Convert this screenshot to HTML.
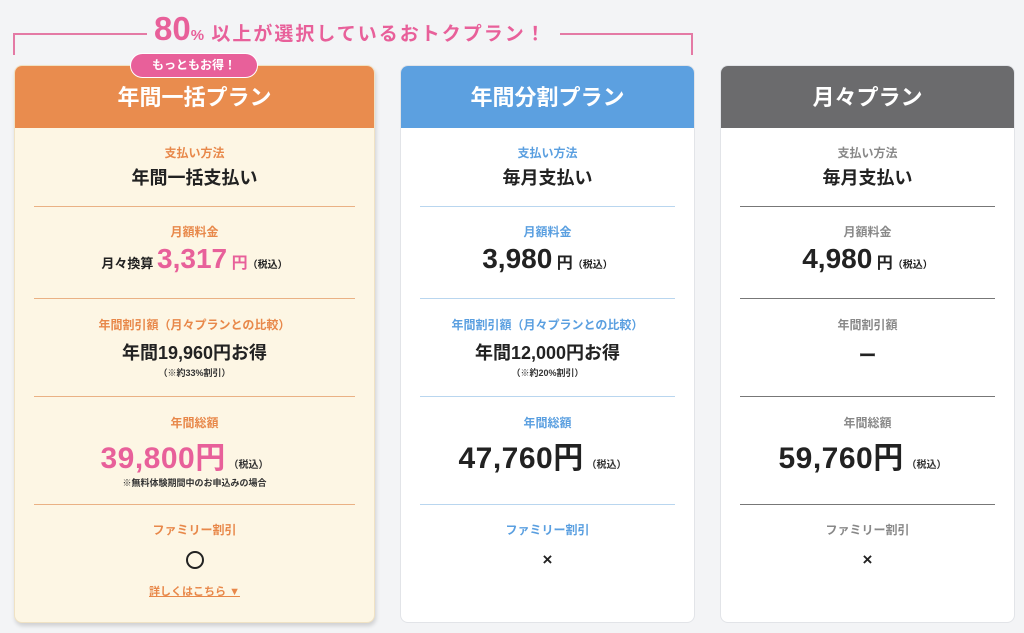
<!DOCTYPE html>
<html><head><meta charset="utf-8"><style>
*{margin:0;padding:0;box-sizing:border-box}
body{width:1024px;height:633px;background:#f3f4f6;font-family:"Liberation Sans","Noto Sans CJK JP",sans-serif;position:relative;overflow:hidden;font-weight:bold}
.card{position:absolute;top:65px;height:558px;border-radius:8px;overflow:hidden;background:#fff;border:1px solid #e2e4e8}
.hd{position:absolute;left:0;right:0;top:0;height:62px;color:#fff;font-size:22px;text-align:center;line-height:64px}
.t{position:absolute;left:0;right:0;text-align:center;white-space:nowrap}
.lb{font-size:12px}
.v{font-size:18px;color:#222}
.hr{position:absolute;height:1px}
.n{font-size:9px;color:#333}
.big{font-size:30px;letter-spacing:0.5px}
.s{font-size:10px;color:#333}
</style></head><body>
<div style="position:absolute;left:13px;top:33px;width:134px;height:2px;background:#e47aa5"></div>
<div style="position:absolute;left:13px;top:33px;width:2px;height:22px;background:#e47aa5"></div>
<div style="position:absolute;left:560px;top:33px;width:133px;height:2px;background:#e47aa5"></div>
<div style="position:absolute;left:691px;top:33px;width:2px;height:22px;background:#e47aa5"></div>
<div style="position:absolute;left:154px;top:10px;color:#e8609a;white-space:nowrap"><span style="font-size:33px">80</span><span style="font-size:15px">%</span><span style="font-size:19px;letter-spacing:2px"> 以上が選択しているおトクプラン！</span></div>

<div class="card" style="left:14px;width:361px;background:#fdf6e4;border-color:#f0e2c4;box-shadow:1px 3px 4px rgba(0,0,0,0.15)">
<div class="hd" style="background:#e98c4e">年間一括プラン</div>
<div class="t lb" style="top:78px;color:#e8884a">支払い方法</div>
<div class="t v" style="top:98px">年間一括支払い</div>
<div class="hr" style="left:19px;right:19px;top:140px;background:#eab184"></div>
<div class="t lb" style="top:157px;color:#e8884a">月額料金</div>
<div class="t" style="top:177px;color:#222"><span style="font-size:13px">月々換算 </span><span style="font-size:28px;color:#e8609a">3,317</span><span style="font-size:16px;color:#e8609a"> 円</span><span style="font-size:10px">（税込）</span></div>
<div class="hr" style="left:19px;right:19px;top:232px;background:#eab184"></div>
<div class="t lb" style="top:250px;color:#e8884a">年間割引額（月々プランとの比較）</div>
<div class="t v" style="top:273px">年間19,960円お得</div>
<div class="t n" style="top:300px">（※約33%割引）</div>
<div class="hr" style="left:19px;right:19px;top:330px;background:#eab184"></div>
<div class="t lb" style="top:348px;color:#e8884a">年間総額</div>
<div class="t" style="top:367px;color:#e8609a;left:-20px"><span class="big">39,800円</span><span class="s"> （税込）</span></div>
<div class="t n" style="top:410px">※無料体験期間中のお申込みの場合</div>
<div class="hr" style="left:19px;right:19px;top:438px;background:#eab184"></div>
<div class="t lb" style="top:455px;color:#e8884a">ファミリー割引</div>
<div style="position:absolute;left:171px;top:485px;width:18px;height:18px;border:2px solid #222;border-radius:50%"></div>
<div class="t" style="top:517px;font-size:11px;color:#e8884a;text-decoration:underline">詳しくはこちら ▼</div>
</div>
<div style="position:absolute;left:130px;top:53px;width:128px;height:25px;border-radius:13px;background:#e8609a;border:1px solid #fff;color:#fff;font-size:12px;text-align:center;line-height:23px">もっともお得！</div>

<div class="card" style="left:400px;width:295px">
<div class="hd" style="background:#5ca0e0">年間分割プラン</div>
<div class="t lb" style="top:78px;color:#5a9fe0">支払い方法</div>
<div class="t v" style="top:98px">毎月支払い</div>
<div class="hr" style="left:19px;right:19px;top:140px;background:#b9d6ef"></div>
<div class="t lb" style="top:157px;color:#5a9fe0">月額料金</div>
<div class="t" style="top:177px;color:#222"><span style="font-size:28px">3,980</span><span style="font-size:16px"> 円</span><span style="font-size:10px">（税込）</span></div>
<div class="hr" style="left:19px;right:19px;top:232px;background:#b9d6ef"></div>
<div class="t lb" style="top:250px;color:#5a9fe0">年間割引額（月々プランとの比較）</div>
<div class="t v" style="top:273px">年間12,000円お得</div>
<div class="t n" style="top:300px">（※約20%割引）</div>
<div class="hr" style="left:19px;right:19px;top:330px;background:#b9d6ef"></div>
<div class="t lb" style="top:348px;color:#5a9fe0">年間総額</div>
<div class="t" style="top:367px;color:#222;left:-10px"><span class="big">47,760円</span><span class="s"> （税込）</span></div>
<div class="hr" style="left:19px;right:19px;top:438px;background:#b9d6ef"></div>
<div class="t lb" style="top:455px;color:#5a9fe0">ファミリー割引</div>
<div class="t" style="top:484px;font-size:17px;color:#222">×</div>
</div>

<div class="card" style="left:720px;width:295px">
<div class="hd" style="background:#6b6b6d">月々プラン</div>
<div class="t lb" style="top:78px;color:#888">支払い方法</div>
<div class="t v" style="top:98px">毎月支払い</div>
<div class="hr" style="left:19px;right:19px;top:140px;background:#777"></div>
<div class="t lb" style="top:157px;color:#888">月額料金</div>
<div class="t" style="top:177px;color:#222"><span style="font-size:28px">4,980</span><span style="font-size:16px"> 円</span><span style="font-size:10px">（税込）</span></div>
<div class="hr" style="left:19px;right:19px;top:232px;background:#777"></div>
<div class="t lb" style="top:250px;color:#888">年間割引額</div>
<div class="t v" style="top:276px">ー</div>
<div class="hr" style="left:19px;right:19px;top:330px;background:#777"></div>
<div class="t lb" style="top:348px;color:#888">年間総額</div>
<div class="t" style="top:367px;color:#222;left:-10px"><span class="big">59,760円</span><span class="s"> （税込）</span></div>
<div class="hr" style="left:19px;right:19px;top:438px;background:#777"></div>
<div class="t lb" style="top:455px;color:#888">ファミリー割引</div>
<div class="t" style="top:484px;font-size:17px;color:#222">×</div>
</div>
</body></html>
